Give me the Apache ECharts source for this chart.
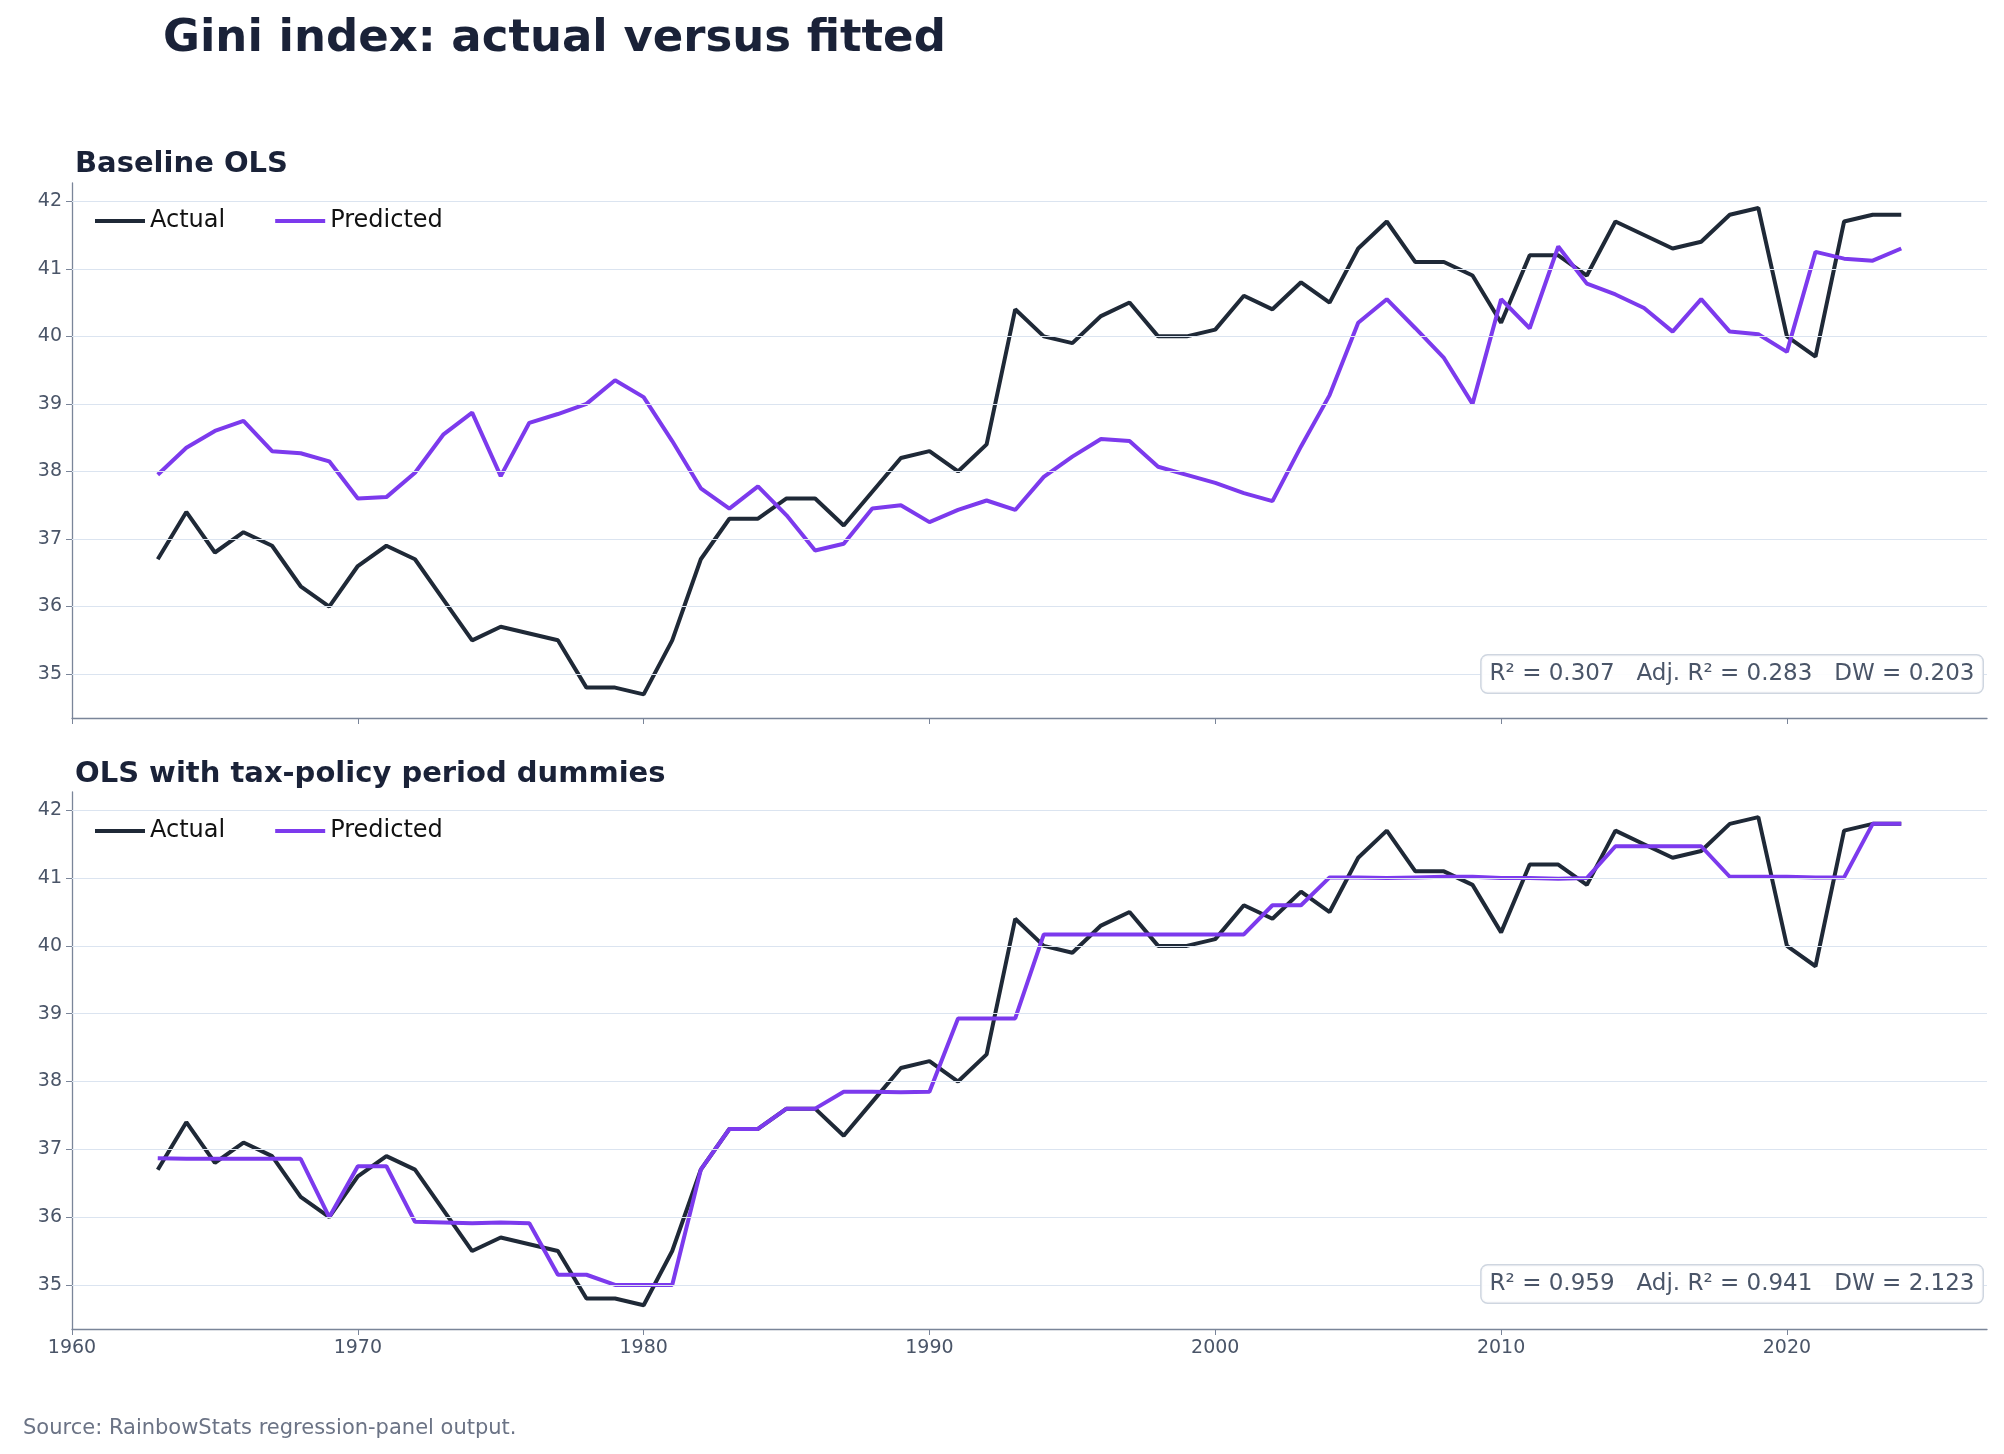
<!DOCTYPE html>
<html>
<head>
<meta charset="utf-8">
<script src="https://cdn.jsdelivr.net/npm/echarts@6/dist/echarts.min.js"></script>
<style>
html, body { margin: 0; padding: 0; background: #fff; }
#chart { width: 2004px; height: 1454px; }
</style>
</head>
<body>
<div id="chart"></div>
<script>
var years = [];
for (var y = 1963; y <= 2024; y++) years.push(y);

var actual = [36.7, 37.4, 36.8, 37.1, 36.9, 36.3, 36.0, 36.6, 36.9, 36.7,
    36.1, 35.5, 35.7, 35.6, 35.5, 34.8, 34.8, 34.7, 35.5, 36.7,
    37.3, 37.3, 37.6, 37.6, 37.2, 37.7, 38.2, 38.3, 38.0, 38.4,
    40.4, 40.0, 39.9, 40.3, 40.5, 40.0, 40.0, 40.1, 40.6, 40.4,
    40.8, 40.5, 41.3, 41.7, 41.1, 41.1, 40.9, 40.2, 41.2, 41.2,
    40.9, 41.7, 41.5, 41.3, 41.4, 41.8, 41.9, 40.0, 39.7, 41.7,
    41.8, 41.8];

var predBaseline = [37.95, 38.35, 38.6, 38.75, 38.3, 38.27, 38.15, 37.6, 37.62, 37.98,
    38.55, 38.87, 37.93, 38.72, 38.85, 39.0, 39.35, 39.1, 38.45, 37.75,
    37.45, 37.78, 37.35, 36.83, 36.93, 37.45, 37.5, 37.25, 37.43, 37.57,
    37.43, 37.92, 38.22, 38.48, 38.45, 38.07, 37.95, 37.83, 37.68, 37.56,
    38.37, 39.13, 40.2, 40.55, 40.12, 39.68, 39.0, 40.55, 40.12, 41.33,
    40.78, 40.62, 40.42, 40.07, 40.55, 40.07, 40.03, 39.77, 41.25, 41.15,
    41.12, 41.3];

var predDummies = [36.87, 36.86, 36.86, 36.86, 36.86, 36.86, 36.0, 36.75, 36.75, 35.93,
    35.92, 35.91, 35.92, 35.91, 35.15, 35.15, 35.0, 35.0, 35.0, 36.7,
    37.3, 37.3, 37.6, 37.6, 37.85, 37.85, 37.84, 37.85, 38.93, 38.93,
    38.93, 40.17, 40.17, 40.17, 40.17, 40.17, 40.17, 40.17, 40.17, 40.6,
    40.6, 41.01, 41.01, 41.0, 41.01, 41.02, 41.02, 41.0, 41.0, 40.99,
    41.0, 41.47, 41.47, 41.47, 41.47, 41.02, 41.02, 41.02, 41.01, 41.01,
    41.8, 41.8];

var yTicks = [35, 36, 37, 38, 39, 40, 41, 42];
var xTicks = [1960, 1970, 1980, 1990, 2000, 2010, 2020];
var stats1 = 'R² = 0.307   Adj. R² = 0.283   DW = 0.203';
var stats2 = 'R² = 0.959   Adj. R² = 0.941   DW = 2.123';

var font = 'DejaVu Sans';
var axisCol = '#7a8599';
var labelCol = '#4a5568';

function pairs(vals) {
    return years.map(function (yr, i) { return [yr, vals[i]]; });
}

function xAxisFor(idx, showLabels) {
    return {
        type: 'value', gridIndex: idx, min: 1960, max: 2027,
        axisLine: { show: true, lineStyle: { color: axisCol, width: 1.3 } },
        axisTick: { show: true, customValues: xTicks, length: 6, lineStyle: { color: axisCol } },
        axisLabel: { show: showLabels, customValues: xTicks, color: labelCol, fontFamily: font, fontSize: 19, margin: 10,
            formatter: function (v) { return String(v); } },
        splitLine: { show: false }
    };
}

function yAxisFor(idx) {
    return {
        type: 'value', gridIndex: idx, min: 34.35, max: 42.27,
        axisLine: { show: true, lineStyle: { color: axisCol, width: 1.3 } },
        axisTick: { show: true, customValues: yTicks, length: 6, lineStyle: { color: axisCol } },
        axisLabel: { customValues: yTicks, color: labelCol, fontFamily: font, fontSize: 19, margin: 10 },
        splitLine: { show: false }
    };
}

function gridLines() {
    return {
        silent: true, symbol: 'none', label: { show: false },
        lineStyle: { color: '#dbe4f0', width: 1.2, type: 'solid' },
        data: yTicks.map(function (v) { return { yAxis: v }; })
    };
}

function lineSeries(name, vals, color, idx, withGrid) {
    var s = {
        name: name, type: 'line', xAxisIndex: idx, yAxisIndex: idx,
        data: pairs(vals), showSymbol: false, symbol: 'none',
        lineStyle: { color: color, width: 4 }, itemStyle: { color: color },
        z: name == 'Actual' ? 3 : 4
    };
    if (withGrid) s.markLine = gridLines();
    return s;
}

function statBox(text, top) {
    return {
        type: 'text', right: 20, top: top, z: 10,
        style: {
            text: text, fill: '#4a5568', font: '23px "' + font + '"',
            backgroundColor: 'rgba(255,255,255,0.9)', borderColor: '#cfd6e0', borderWidth: 1.5,
            borderRadius: 6, padding: [7, 8, 7, 8]
        }
    };
}

var chart = echarts.init(document.getElementById('chart'));
chart.setOption({
    animation: false,
    backgroundColor: '#ffffff',
    title: [
        { text: 'Gini index: actual versus fitted', left: 158, top: 12,
          textStyle: { fontFamily: font, fontSize: 45, fontWeight: 'bold', color: '#1a2238' } },
        { text: 'Baseline OLS', left: 70, top: 145,
          textStyle: { fontFamily: font, fontSize: 29, fontWeight: 'bold', color: '#1a2238' } },
        { text: 'OLS with tax-policy period dummies', left: 70, top: 755,
          textStyle: { fontFamily: font, fontSize: 29, fontWeight: 'bold', color: '#1a2238' } },
        { text: 'Source: RainbowStats regression-panel output.', left: 18, top: 1413,
          textStyle: { fontFamily: font, fontSize: 21, fontWeight: 'normal', color: '#6b7385' } }
    ],
    legend: [
        { data: ['Actual', 'Predicted'], left: 90, top: 204, itemWidth: 50, itemHeight: 4, itemGap: 50,
          icon: 'rect', textStyle: { fontFamily: font, fontSize: 24, color: '#111' } },
        { data: ['Actual', 'Predicted'], left: 90, top: 814, itemWidth: 50, itemHeight: 4, itemGap: 50,
          icon: 'rect', textStyle: { fontFamily: font, fontSize: 24, color: '#111' } }
    ],
    grid: [
        { left: 72, right: 17, top: 183, height: 535 },
        { left: 72, right: 17, top: 792, height: 537 }
    ],
    xAxis: [xAxisFor(0, false), xAxisFor(1, true)],
    yAxis: [yAxisFor(0), yAxisFor(1)],
    series: [
        lineSeries('Actual', actual, '#1f2937', 0, true),
        lineSeries('Predicted', predBaseline, '#7c3aed', 0, false),
        lineSeries('Actual', actual, '#1f2937', 1, true),
        lineSeries('Predicted', predDummies, '#7c3aed', 1, false)
    ],
    graphic: [statBox(stats1, 654), statBox(stats2, 1264)]
});
</script>
</body>
</html>
